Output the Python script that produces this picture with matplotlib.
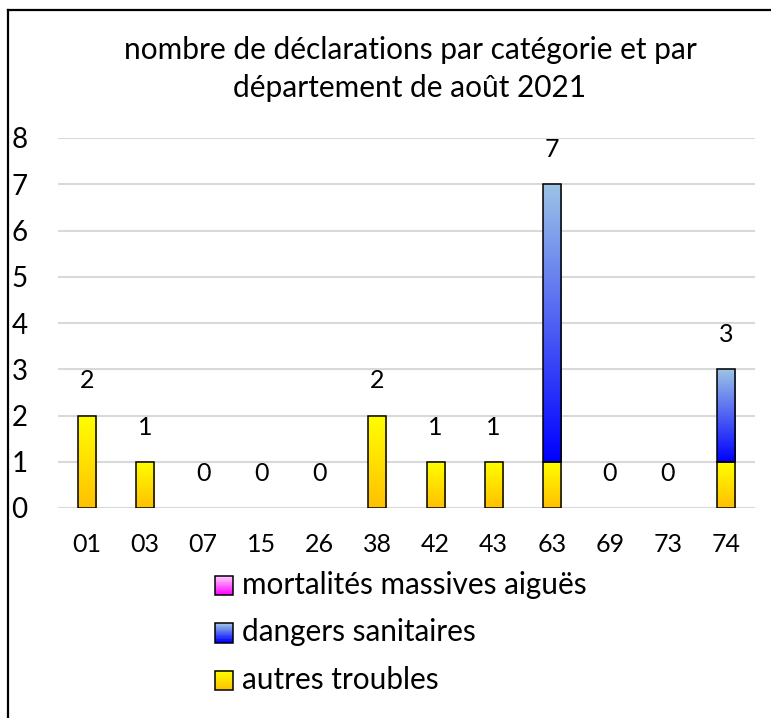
import numpy as np
import matplotlib
matplotlib.use('Agg')
import matplotlib.pyplot as plt
from matplotlib.colors import LinearSegmentedColormap
from matplotlib.patches import Patch, Rectangle
from matplotlib.legend_handler import HandlerBase
from matplotlib.lines import Line2D

plt.rcParams['font.family'] = ['Lato', 'DejaVu Sans']

departements = ['01', '03', '07', '15', '26', '38', '42', '43', '63', '69', '73', '74']
autres_troubles = [2, 1, 0, 0, 0, 2, 1, 1, 1, 0, 0, 1]
dangers_sanitaires = [0, 0, 0, 0, 0, 0, 0, 0, 6, 0, 0, 2]
mortalites = [0, 0, 0, 0, 0, 0, 0, 0, 0, 0, 0, 0]

series = [
    ('autres troubles', autres_troubles, '#FFFF00', '#FFC000'),
    ('dangers sanitaires', dangers_sanitaires, '#9DC3E6', '#0000FF'),
    ('mortalités massives aiguës', mortalites, '#FFCCFF', '#FF00FF'),
]

bar_w = 0.31


def gradient_bar(ax, x, bottom, height, top_col, bot_col):
    rect = ax.bar(x, height, bar_w, bottom=bottom, facecolor='none',
                  edgecolor='black', linewidth=1.1, zorder=3)[0]
    cmap = LinearSegmentedColormap.from_list('g', [bot_col, top_col])
    grad = np.linspace(0, 1, 256).reshape(-1, 1)
    im = ax.imshow(grad, cmap=cmap, origin='lower', aspect='auto',
                   extent=(x - bar_w / 2, x + bar_w / 2, bottom, bottom + height),
                   zorder=2, interpolation='bilinear')
    im.set_clip_path(rect)


class GradientHandler(HandlerBase):
    def __init__(self, top_col, bot_col):
        super().__init__()
        self.cmap = LinearSegmentedColormap.from_list('g', [bot_col, top_col])

    def create_artists(self, legend, orig_handle, xdescent, ydescent,
                       width, height, fontsize, trans):
        n = 24
        arts = []
        y0 = -ydescent - 1.5
        for i in range(n):
            r = Rectangle((-xdescent, y0 + i * height / n), width, height / n + 0.2,
                          facecolor=self.cmap(i / (n - 1)), linewidth=0, transform=trans)
            arts.append(r)
        arts.append(Rectangle((-xdescent, y0), width, height, fill=False,
                              edgecolor='black', linewidth=1.1, transform=trans))
        return arts


fig = plt.figure(figsize=(7.71, 7.18), dpi=100)
ax = fig.add_axes([58 / 771, 210 / 718, 697 / 771, 370 / 718])

x = np.arange(len(departements))
bottom = np.zeros(len(departements))
for name, vals, top_col, bot_col in series:
    for i, v in enumerate(vals):
        if v > 0:
            gradient_bar(ax, x[i], bottom[i], v, top_col, bot_col)
    bottom += np.array(vals)

# étiquettes des totaux
for i, tot in enumerate(bottom):
    ax.annotate(f'{int(tot)}', (x[i], tot), xytext=(0, 25), textcoords='offset points',
                ha='center', va='center', fontsize=18)

ax.set_xlim(-0.5, len(departements) - 0.5)
ax.set_ylim(0, 8)
ax.set_yticks(range(0, 9))
ax.set_xticks(x)
ax.set_xticklabels(departements)
ax.tick_params(axis='x', length=0, pad=18, labelsize=18)
ax.tick_params(axis='y', length=0, pad=22, labelsize=20)
ax.grid(axis='y', color='#D9D9D9', linewidth=1.5, zorder=0)
ax.set_axisbelow(True)
for s in ax.spines.values():
    s.set_visible(False)

fig.text(410 / 771, 1 - 69 / 718, 'nombre de déclarations par catégorie et par\ndépartement de août 2021',
         ha='center', va='center', fontsize=21.5, linespacing=1.43)

handles = []
hmap = {}
for name, vals, top_col, bot_col in reversed(series):
    p = Patch(label=name)
    handles.append(p)
    hmap[p] = GradientHandler(top_col, bot_col)
fig.legend(handles=handles, handler_map=hmap, loc='upper left',
           bbox_to_anchor=(215 / 771, 1 - 571 / 718), frameon=False, fontsize=21.4,
           handlelength=0.62, handleheight=0.62, handletextpad=0.28,
           labelspacing=0.65, borderpad=0, borderaxespad=0)

# cadre du graphique (bords gauche et haut)
fig.add_artist(Line2D([8 / 771, 8 / 771], [0, 1 - 10 / 718], color='black', linewidth=1.6))
fig.add_artist(Line2D([8 / 771, 1], [1 - 10 / 718, 1 - 10 / 718], color='black', linewidth=1.6))

fig.savefig('out.png', dpi=100)
